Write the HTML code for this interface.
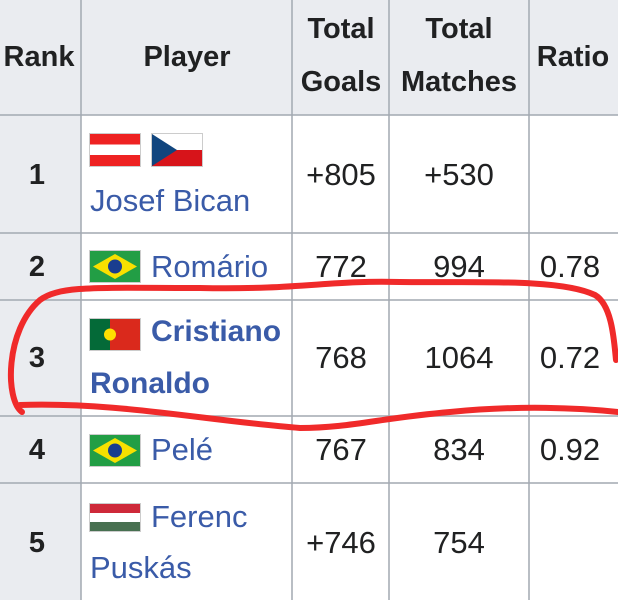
<!DOCTYPE html>
<html><head><style>
body{margin:0;width:618px;height:600px;overflow:hidden;background:#fff;font-family:"Liberation Sans",sans-serif;position:relative}
.t{position:absolute;font-size:31px;line-height:34px;color:#202122;white-space:nowrap}
.c{transform:translateX(-50%);text-align:center}
.h{font-weight:bold;font-size:29px}
.l{color:#3a5ba8}
.f{position:absolute;width:52px;border:1px solid #ccc;box-sizing:border-box}
</style></head><body>
<div style="position:absolute;left:0;top:0;width:618px;height:115px;background:#eaecf0"></div>
<div style="position:absolute;left:0;top:0;width:81px;height:600px;background:#eaecf0"></div>
<svg style="position:absolute;left:0;top:0" width="618" height="600">
<g stroke="#a2a9b1" stroke-width="1.5">
<line x1="81" y1="0" x2="81" y2="600"/><line x1="292" y1="0" x2="292" y2="600"/>
<line x1="389" y1="0" x2="389" y2="600"/><line x1="529" y1="0" x2="529" y2="600"/>
<line x1="0" y1="115" x2="618" y2="115"/><line x1="0" y1="233" x2="618" y2="233"/>
<line x1="0" y1="300" x2="618" y2="300"/><line x1="0" y1="416" x2="618" y2="416"/>
<line x1="0" y1="483" x2="618" y2="483"/>
</g></svg>
<div class="t h c" style="left:39px;top:40px">Rank</div>
<div class="t h c" style="left:187px;top:40px">Player</div>
<div class="t h c" style="left:341px;top:3px;line-height:53px">Total<br>Goals</div>
<div class="t h c" style="left:459px;top:3px;line-height:53px">Total<br>Matches</div>
<div class="t h c" style="left:573px;top:40px">Ratio</div>

<div class="t h c" style="left:37px;top:158px">1</div>
<div class="f" style="left:89px;top:133px;height:34px;background:linear-gradient(#e22 33%,#fff 33%,#fff 66%,#e22 66%)"></div>
<div class="f" style="left:151px;top:133px;height:34px;background:linear-gradient(#fff 50%,#d7141a 50%)"><svg width="50" height="32" style="position:absolute;left:0;top:0"><polygon points="0,0 25,16 0,32" fill="#11457e"/></svg></div>
<div class="t l" style="left:90px;top:184px">Josef Bican</div>
<div class="t c" style="left:341px;top:158px">+805</div>
<div class="t c" style="left:459px;top:158px">+530</div>

<div class="t h c" style="left:37px;top:250px">2</div>
<div class="f" style="left:89px;top:250px;height:33px;background:#229e45"><svg width="50" height="31" style="position:absolute;left:0;top:0"><polygon points="25,3 47,15.5 25,28 3,15.5" fill="#f8e000"/><circle cx="25" cy="15.5" r="7" fill="#1a3d8f"/></svg></div>
<div class="t l" style="left:151px;top:250px">Romário</div>
<div class="t c" style="left:341px;top:250px">772</div>
<div class="t c" style="left:459px;top:250px">994</div>
<div class="t c" style="left:570px;top:250px">0.78</div>

<div class="t h c" style="left:37px;top:341px">3</div>
<div class="f" style="left:89px;top:318px;height:33px;background:linear-gradient(90deg,#046a38 40%,#da291c 40%)"><svg width="50" height="31" style="position:absolute;left:0;top:0"><circle cx="20" cy="15.5" r="6" fill="#ffe000"/></svg></div>
<div class="t h l" style="left:151px;top:315px;font-size:30px">Cristiano</div>
<div class="t h l" style="left:90px;top:367px;font-size:30px">Ronaldo</div>
<div class="t c" style="left:341px;top:341px">768</div>
<div class="t c" style="left:459px;top:341px">1064</div>
<div class="t c" style="left:570px;top:341px">0.72</div>

<div class="t h c" style="left:37px;top:433px">4</div>
<div class="f" style="left:89px;top:434px;height:33px;background:#229e45"><svg width="50" height="31" style="position:absolute;left:0;top:0"><polygon points="25,3 47,15.5 25,28 3,15.5" fill="#f8e000"/><circle cx="25" cy="15.5" r="7" fill="#1a3d8f"/></svg></div>
<div class="t l" style="left:151px;top:433px">Pelé</div>
<div class="t c" style="left:341px;top:433px">767</div>
<div class="t c" style="left:459px;top:433px">834</div>
<div class="t c" style="left:570px;top:433px">0.92</div>

<div class="t h c" style="left:37px;top:526px">5</div>
<div class="f" style="left:89px;top:503px;height:29px;background:linear-gradient(#ce2939 33%,#fff 33%,#fff 66%,#477050 66%)"></div>
<div class="t l" style="left:151px;top:500px">Ferenc</div>
<div class="t l" style="left:90px;top:551px">Puskás</div>
<div class="t c" style="left:341px;top:526px">+746</div>
<div class="t c" style="left:459px;top:526px">754</div>

<svg style="position:absolute;left:0;top:0" width="618" height="600">
<path d="M22,412 C5,400 5,330 40,300 C60,285 100,288 200,288 C300,290 330,280 400,282 C470,283 560,278 595,295 C612,305 614,340 616,360 M20,405 C120,402 200,420 300,428 C350,428 380,418 450,412 C520,405 580,408 618,412" fill="none" stroke="#f02a2a" stroke-width="6" stroke-linecap="round"/>
</svg>
</body></html>
